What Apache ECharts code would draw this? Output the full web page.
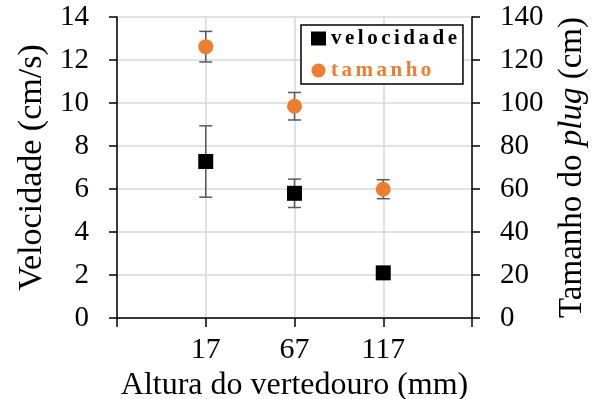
<!DOCTYPE html>
<html><head><meta charset="utf-8">
<script src="https://cdn.jsdelivr.net/npm/echarts@6/dist/echarts.min.js"></script>
<style>html,body{margin:0;padding:0;background:#fff}#c{width:598px;height:399px}</style>
</head><body><div id="c"></div>
<script>
const categories = ['17', '67', '117'];
const velocidade = [7.28, 5.8, 2.1];
const velocidadeErr = [1.66, 0.66, 0];
const tamanho = [126.2, 98.5, 59.9];
const tamanhoErr = [7.1, 6.4, 4.4];
const leftTicks = [0, 2, 4, 6, 8, 10, 12, 14];
const rightTicks = [0, 20, 40, 60, 80, 100, 120, 140];

const FONT = '"Liberation Serif", "Times New Roman", serif';
const ORANGE = '#ED7D31';
const xData = [''].concat(categories, ['']);

function errRender(params, api) {
  const x = api.value(0), y = api.value(1), e = api.value(2);
  const top = api.coord([x, y + e]);
  const bot = api.coord([x, y - e]);
  const hw = 6.5;
  const style = { stroke: '#595959', lineWidth: 1.5, fill: null };
  return { type: 'group', children: [
    { type: 'line', shape: { x1: top[0], y1: top[1], x2: bot[0], y2: bot[1] }, style: style },
    { type: 'line', shape: { x1: top[0] - hw, y1: top[1], x2: top[0] + hw, y2: top[1] }, style: style },
    { type: 'line', shape: { x1: bot[0] - hw, y1: bot[1], x2: bot[0] + hw, y2: bot[1] }, style: style }
  ]};
}

const chart = echarts.init(document.getElementById('c'));
const axisLineStyle = { color: '#000', width: 1.5 };
chart.setOption({
  animation: false,
  backgroundColor: '#fff',
  grid: { left: 117, right: 126, top: 17, bottom: 81, containLabel: false, outerBoundsMode: 'none' },
  legend: {
    orient: 'vertical', left: 301, top: 25,
    padding: [3, 6, 3, 10], itemGap: 11,
    itemWidth: 15, itemHeight: 14,
    borderColor: '#000', borderWidth: 1.5,
    backgroundColor: '#fff',
    formatter: function (n) { return n.split('').join('\u2006'); },
    textStyle: { fontFamily: FONT, fontSize: 21, fontWeight: 'bold', lineHeight: 16 },
    data: [
      { name: 'velocidade', icon: 'rect', textStyle: { color: '#000' } },
      { name: 'tamanho', icon: 'circle', textStyle: { color: ORANGE } }
    ]
  },
  xAxis: {
    type: 'category', data: xData, boundaryGap: false,
    name: 'Altura do vertedouro (mm)', nameLocation: 'middle', nameGap: 44,
    nameTextStyle: { fontFamily: FONT, fontSize: 32, color: '#000' },
    axisLine: { lineStyle: axisLineStyle },
    axisTick: { show: true, length: 9, inside: false, lineStyle: axisLineStyle, interval: 0 },
    axisLabel: { interval: 0, margin: 17, fontFamily: FONT, fontSize: 30, color: '#000' },
    splitLine: { show: true, interval: 0, lineStyle: { color: '#d9d9d9', width: 1.5 } }
  },
  yAxis: [
    {
      type: 'value', min: leftTicks[0], max: leftTicks[leftTicks.length - 1],
      interval: leftTicks[1] - leftTicks[0], position: 'left',
      name: 'Velocidade (cm/s)', nameLocation: 'middle', nameGap: 67, nameRotate: 90,
      nameTextStyle: { fontFamily: FONT, fontSize: 34, color: '#000' },
      axisLine: { show: true, lineStyle: axisLineStyle },
      axisTick: { show: true, length: 8, lineStyle: axisLineStyle },
      axisLabel: { margin: 28, fontFamily: FONT, fontSize: 29, color: '#000' },
      splitLine: { show: true, lineStyle: { color: '#d9d9d9', width: 1.5 } }
    },
    {
      type: 'value', min: rightTicks[0], max: rightTicks[rightTicks.length - 1],
      interval: rightTicks[1] - rightTicks[0], position: 'right',
      name: '{a|Tamanho do }{b|plug}{a| (cm)}', nameLocation: 'middle', nameGap: 84, nameRotate: 90,
      nameTextStyle: {
        fontFamily: FONT, fontSize: 33, color: '#000',
        rich: {
          a: { fontFamily: FONT, fontSize: 33, color: '#000' },
          b: { fontFamily: FONT, fontSize: 33, color: '#000', fontStyle: 'italic' }
        }
      },
      axisLine: { show: true, lineStyle: axisLineStyle },
      axisTick: { show: true, length: 8, lineStyle: axisLineStyle },
      axisLabel: { margin: 28, fontFamily: FONT, fontSize: 29, color: '#000' },
      splitLine: { show: false }
    }
  ],
  series: [
    {
      type: 'custom', name: 'errV', yAxisIndex: 0, z: 3, renderItem: errRender,
      encode: { x: 0, y: 1 },
      data: categories.map(function (c, i) { return [c, velocidade[i], velocidadeErr[i]]; })
    },
    {
      type: 'custom', name: 'errT', yAxisIndex: 1, z: 3, renderItem: errRender,
      encode: { x: 0, y: 1 },
      data: categories.map(function (c, i) { return [c, tamanho[i], tamanhoErr[i]]; })
    },
    {
      type: 'scatter', name: 'velocidade', yAxisIndex: 0, z: 5,
      symbol: 'rect', symbolSize: 15, itemStyle: { color: '#000', opacity: 1 },
      data: categories.map(function (c, i) { return [c, velocidade[i]]; })
    },
    {
      type: 'scatter', name: 'tamanho', yAxisIndex: 1, z: 5,
      symbol: 'circle', symbolSize: 15, itemStyle: { color: ORANGE, opacity: 1 },
      data: categories.map(function (c, i) { return [c, tamanho[i]]; })
    }
  ]
});
</script>
</body></html>
